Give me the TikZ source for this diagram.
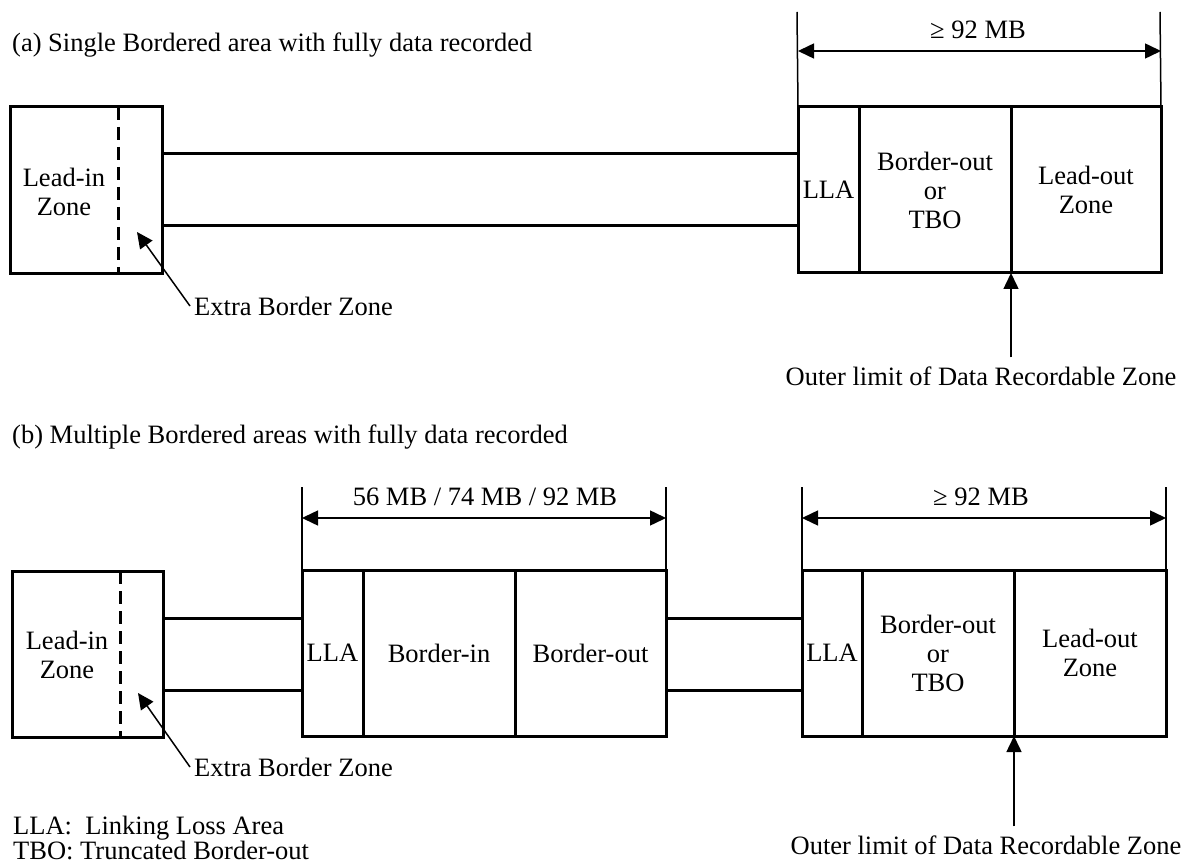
\documentclass[tikz,border=0pt]{standalone}
\usepackage{fontspec}
\setmainfont{Liberation Serif}
\usetikzlibrary{arrows.meta}
\begin{document}
\begin{tikzpicture}[x=1pt,y=-1pt,
  every node/.style={font=\fontsize{26.5}{29}\selectfont, inner sep=2pt, align=center},
  cell/.style={draw, line width=3pt, inner sep=0pt, outer sep=0pt, minimum height=166pt},
  thickline/.style={line width=3pt},
  thinline/.style={line width=1.5pt},
  dim/.style={line width=1.5pt, {Triangle[length=16pt,width=15pt]}-{Triangle[length=16pt,width=15pt]}},
  ptr/.style={line width=1.5pt, -{Triangle[length=16pt,width=15pt]}},
  zonedash/.style={line width=3pt, dash pattern=on 13pt off 7pt}]
\useasboundingbox (0,0) rectangle (1194,866);

% ---------------- panel (a) ----------------
\node[anchor=west] (aTitle) at (10,45) {(a) Single Bordered area with fully data recorded};

\node[cell, minimum width=152pt, minimum height=167pt] (aLead) at (86,190.5) {};
\draw[zonedash] (aLead.north -| 118,0) -- (aLead.south -| 118,0);
\node (aLeadT) at (64,192) {Lead-in\\Zone};

\node[cell, minimum width=61pt] (aLLA) at (828.5,190) {LLA};
\node[cell, minimum width=152pt] (aBO) at (935,190) {Border-out\\or\\TBO};
\node[cell, minimum width=150pt] (aLO) at (1086,190) {Lead-out\\Zone};

\draw[thickline] (aLead.east |- 0,154) -- (aLLA.west |- 0,154);
\draw[thickline] (aLead.east |- 0,226) -- (aLLA.west |- 0,226);

\coordinate (aDimL) at (797,12);
\coordinate (aDimR) at (1160,12);
\draw[thinline] (aLLA.north west) -- (aDimL);
\draw[thinline] (aLO.north east) -- (aDimR);
\draw[dim] (aLLA.north west |- 0,51) -- (aLO.north east |- 0,51);
\node (aSize) at (978,30) {≥ 92 MB};

\node (aOuter) at (981,376) {Outer limit of Data Recordable Zone};
\draw[ptr, shorten <=7pt] (aOuter.north -| aBO.south east) -- (aBO.south east);

\node[anchor=west] (aExtra) at (192,306) {Extra Border Zone};
\coordinate (aExtraTip) at (137,232);
\draw[ptr] ([xshift=-2pt]aExtra.west) -- (aExtraTip);

% ---------------- panel (b) ----------------
\node[anchor=west] (bTitle) at (10,437) {(b) Multiple Bordered areas with fully data recorded};

\node[cell, minimum width=151pt] (bLead) at (87.5,654) {};
\draw[zonedash] (bLead.north -| 120,0) -- (bLead.south -| 120,0);
\node (bLeadT) at (67,655) {Lead-in\\Zone};

\node[cell, minimum width=61pt] (bLLA1) at (332.5,653) {LLA};
\node[cell, minimum width=152pt] (bBI) at (439,653) {Border-in};
\node[cell, minimum width=151pt] (bBO) at (590.5,653) {Border-out};

\node[cell, minimum width=60pt] (bLLA2) at (832,653) {LLA};
\node[cell, minimum width=152pt] (bBO2) at (938,653) {Border-out\\or\\TBO};
\node[cell, minimum width=152pt] (bLO) at (1090,653) {Lead-out\\Zone};

\draw[thickline] (bLead.east |- 0,618) -- (bLLA1.west |- 0,618);
\draw[thickline] (bLead.east |- 0,690) -- (bLLA1.west |- 0,690);
\draw[thickline] (bBO.east |- 0,618) -- (bLLA2.west |- 0,618);
\draw[thickline] (bBO.east |- 0,690) -- (bLLA2.west |- 0,690);

\coordinate (bDim1L) at (302,487);
\coordinate (bDim1R) at (666,487);
\draw[thinline] (bLLA1.north west) -- (bDim1L);
\draw[thinline] (bBO.north east) -- (bDim1R);
\draw[dim] (bLLA1.north west |- 0,518) -- (bBO.north east |- 0,518);
\node (bSize1) at (485,497) {56 MB / 74 MB / 92 MB};

\coordinate (bDim2L) at (802,487);
\coordinate (bDim2R) at (1166,487);
\draw[thinline] (bLLA2.north west) -- (bDim2L);
\draw[thinline] (bLO.north east) -- (bDim2R);
\draw[dim] (bLLA2.north west |- 0,518) -- (bLO.north east |- 0,518);
\node (bSize2) at (981,497) {≥ 92 MB};

\node (bOuter) at (986,845) {Outer limit of Data Recordable Zone};
\draw[ptr, shorten <=7pt] (bOuter.north -| bBO2.south east) -- (bBO2.south east);

\node[anchor=west] (bExtra) at (192,767) {Extra Border Zone};
\coordinate (bExtraTip) at (138,693);
\draw[ptr] ([xshift=-2pt]bExtra.west) -- (bExtraTip);

% legend
\node[anchor=west] (legLLA) at (11,828) {LLA:~ Linking Loss Area};
\node[anchor=west] (legTBO) at (11,850) {TBO: Truncated Border-out};
\end{tikzpicture}
\end{document}
